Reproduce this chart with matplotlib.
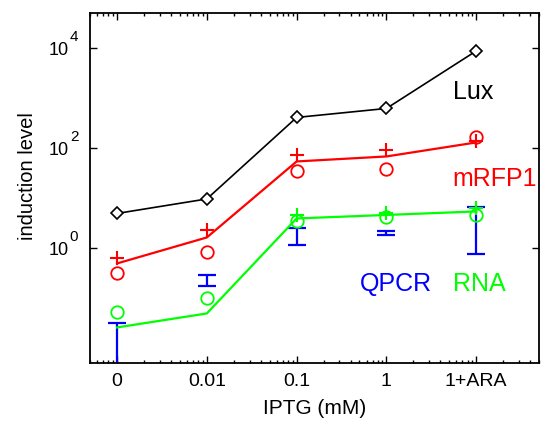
import numpy as np
import matplotlib
matplotlib.use("Agg")
import matplotlib.pyplot as plt
from matplotlib.ticker import FixedLocator, LogLocator, NullFormatter, NullLocator

plt.rcParams['font.family'] = ['Liberation Sans', 'DejaVu Sans']

# Categories (IPTG conditions) mapped onto a log axis
x_labels = ['0', '0.01', '0.1', '1', '1+ARA']
x_pos = [1e-3, 1e-2, 1e-1, 1.0, 10.0]

# y tick decades
y_tick_exp = [0, 2, 4]

# Values (log10)
lux_log = [0.69, 0.98, 2.61, 2.79, 3.94]
mrfp_line_log = [-0.31, 0.21, 1.73, 1.83, 2.11]
mrfp_plus_log = [-0.21, 0.36, 1.86, 1.96, 2.13]
mrfp_circ_log = [-0.51, -0.09, 1.54, 1.57, 2.21]
rna_line_log = [-1.59, -1.31, 0.59, 0.66, 0.73]
rna_circ_log = [-1.29, -1.01, 0.53, 0.61, 0.66]
rna_plus_log = [np.nan, np.nan, 0.66, 0.69, 0.79]
qpcr_upper_log = [-1.51, -0.55, 0.39, 0.33, 0.81]
qpcr_lower_log = [-3.0, -0.77, 0.06, 0.25, -0.12]

def p(v):
    return 10.0 ** np.array(v, dtype=float)

RED = '#ff0000'
GREEN = '#00ff00'
BLUE = '#0000ff'

fig = plt.figure(figsize=(5.5, 4.26), dpi=100)
ax = fig.add_axes([90/550, 1-363/426, (539-90)/550, 350/426])

x = np.array(x_pos)
ax.plot(x, p(lux_log), color='black', lw=1.2, marker='D', ms=6.5,
        mfc='white', mec='black', mew=1.2, zorder=3)
ax.plot(x, p(mrfp_line_log), color=RED, lw=1.6, zorder=3)
ax.plot(x, p(mrfp_plus_log), ls='none', marker='+', ms=10, mew=1.5, color=RED, zorder=3)
ax.plot(x, p(mrfp_circ_log), ls='none', marker='o', ms=9, mfc='none', mew=1.3, mec=RED, zorder=3)
ax.plot(x, p(rna_line_log), color=GREEN, lw=1.6, zorder=3)
ax.plot(x, p(rna_circ_log), ls='none', marker='o', ms=9, mfc='none', mew=1.3, mec=GREEN, zorder=3)
ax.plot(x, p(rna_plus_log), ls='none', marker='+', ms=10, mew=1.5, color=GREEN, zorder=3)

up = p(qpcr_upper_log)
lo = p(qpcr_lower_log)
center = np.sqrt(up * lo)
ax.errorbar(x, center, yerr=[center - lo, up - center], fmt='none',
            ecolor=BLUE, elinewidth=1.6, capsize=6.5, capthick=1.6, zorder=2)

ax.set_xscale('log')
ax.set_yscale('log')
ax.set_xlim(5e-4, 50)
ax.set_ylim(5e-3, 5e4)

ax.xaxis.set_major_locator(FixedLocator(x_pos))
ax.set_xticklabels(x_labels)
ax.xaxis.set_minor_locator(LogLocator(base=10, subs=np.arange(2, 10)))
ax.xaxis.set_minor_formatter(NullFormatter())

yt = [10.0 ** e for e in y_tick_exp]
ax.yaxis.set_major_locator(FixedLocator(yt))
ax.set_yticklabels([''] * len(yt))
ax.yaxis.set_minor_locator(NullLocator())

ax.tick_params(which='both', direction='in', top=True, right=True, width=1)
ax.tick_params(axis='x', labelsize=14, pad=7)
ax.tick_params(which='major', length=5)
ax.tick_params(which='minor', length=2.5)
for s in ax.spines.values():
    s.set_linewidth(1.3)

# MATLAB-style y tick labels: "10" with a raised exponent
for e, v in zip(y_tick_exp, yt):
    ax.annotate('10', xy=(0, v), xycoords=('axes fraction', 'data'),
                xytext=(-15.0, -1.8), textcoords='offset points',
                ha='right', va='center', fontsize=13)
    ax.annotate(str(e), xy=(0, v), xycoords=('axes fraction', 'data'),
                xytext=(-14.5, 2.6), textcoords='offset points',
                ha='left', va='bottom', fontsize=11)

ax.set_xlabel('IPTG (mM)', fontsize=15)
ax.xaxis.set_label_coords(0.5, -0.104)
ax.set_ylabel('induction level', fontsize=14.5)
ax.yaxis.set_label_coords(-0.118, 0.534)

tk = dict(fontsize=18, transform=ax.transAxes, va='center', ha='left', clip_on=True)
ax.text(0.808, 0.774, 'Lux', color='black', **tk)
ax.text(0.808, 0.526, 'mRFP1', color=RED, **tk)
ax.text(0.601, 0.226, 'QPCR', color=BLUE, **tk)
ax.text(0.808, 0.226, 'RNA', color=GREEN, **tk)

fig.savefig('out.png', dpi=100)
